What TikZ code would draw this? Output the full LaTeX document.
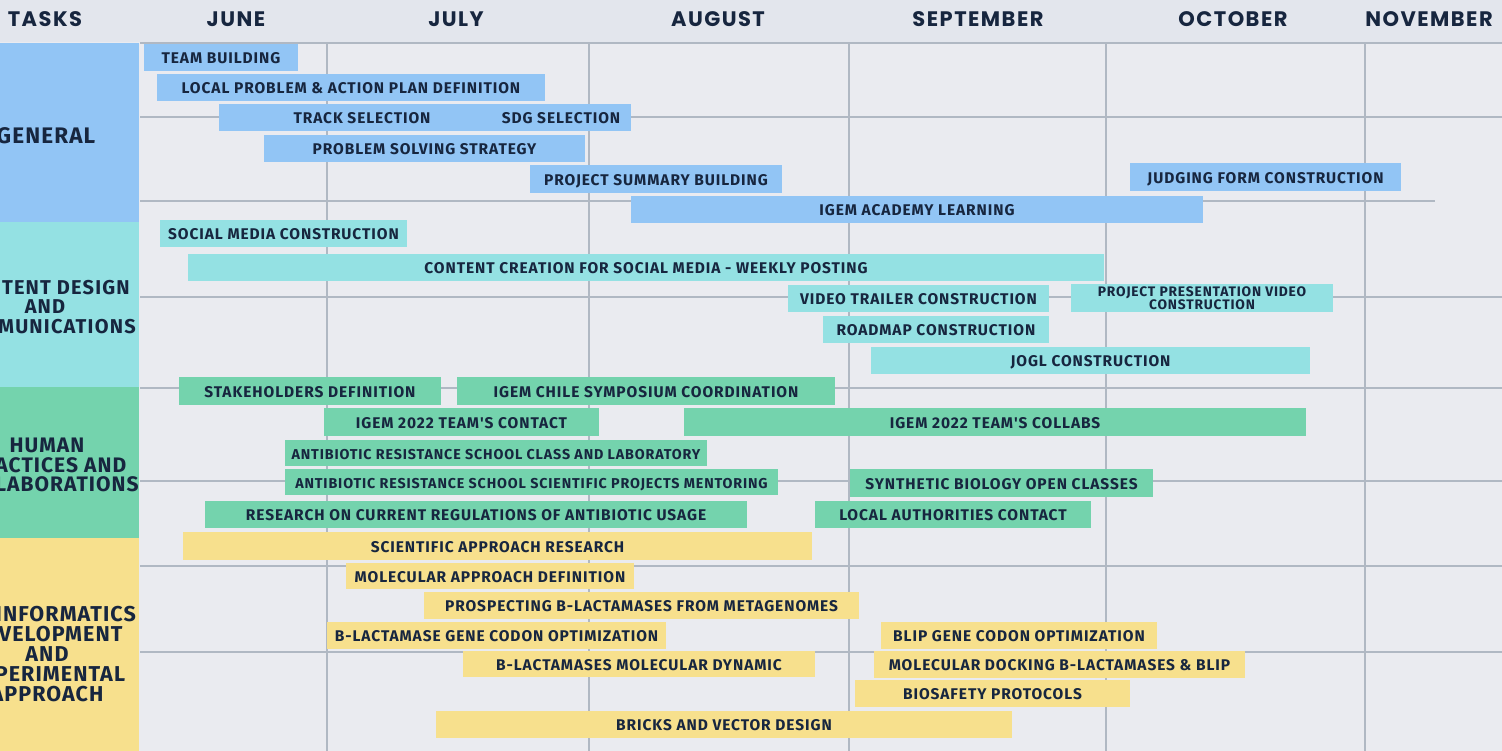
\documentclass[tikz,border=0pt]{standalone}
\usepackage{fontspec}
\newfontfamily\taskfont{Fira Sans}[LetterSpace=6]
\newfontfamily\catfont{Fira Sans}[LetterSpace=5]
\newfontfamily\hdrfont{Poppins}[LetterSpace=7]
\definecolor{bg}{HTML}{EAEBF0}
\definecolor{hdr}{HTML}{E3E6ED}
\definecolor{gridc}{HTML}{B0B8C3}
\definecolor{ink}{HTML}{17263F}
\definecolor{cblue}{HTML}{92C5F5}
\definecolor{ccyan}{HTML}{94E1E3}
\definecolor{cgreen}{HTML}{74D3AD}
\definecolor{cyellow}{HTML}{F7E08D}
\tikzset{
  bar/.style={inner sep=0pt, outer sep=0pt, text=ink, text height=12.5pt, text depth=0pt,
    font=\taskfont\bfseries\fontsize{15.5}{16}\selectfont},
  small/.style={font=\taskfont\bfseries\fontsize{14.3}{15}\selectfont, text height=12pt},
  cat/.style={inner sep=0pt, text=ink, align=center,
    font=\catfont\bfseries\fontsize{20}{19.8}\selectfont},
  month/.style={inner sep=0pt, anchor=base, text=ink, font=\hdrfont\bfseries\fontsize{21}{22}\selectfont},
  gridline/.style={draw=gridc, line width=2.6pt},
}
\newcommand\tb[8][]{\node[bar,#1,fill=#7,minimum width={(#5-#3)*1pt},minimum height={(#6-#4)*1pt}] (#2) at ({(#3+#5)/2},{(#4+#6)/2}) {#8};}
\begin{document}
\begin{tikzpicture}[x=1pt,y=-1pt]
\useasboundingbox (0,0) rectangle (1502,751);
\clip (0,0) rectangle (1502,751);
\fill[bg] (0,0) rectangle (1502,751);
\fill[hdr] (0,0) rectangle (1502,42);
% header
\node[month] (mtasks) at (45,27) {TASKS};
\node[month] (mjun) at (236,27) {JUNE};
\node[month] (mjul) at (456,27) {JULY};
\node[month] (maug) at (718,27) {AUGUST};
\node[month] (msep) at (978,27) {SEPTEMBER};
\node[month] (moct) at (1233,27) {OCTOBER};
\node[month] (mnov) at (1429,27) {NOVEMBER};
% grid
\foreach \x in {327,589,849,1106,1365} \draw[gridline] (\x,43) -- (\x,751);
\foreach \y in {43,117,297,388,481,566,652} \draw[gridline] (140,\y) -- (1502,\y);
\draw[gridline] (140,201) -- (1435,201);
% categories
\fill[cblue] (0,43) rectangle (139,222);
\fill[ccyan] (0,222) rectangle (139,387);
\fill[cgreen] (0,387) rectangle (139,538);
\fill[cyellow] (0,538) rectangle (139,751);
\node[cat, font=\catfont\bfseries\fontsize{22.5}{23}\selectfont] (cgen) at (46,136) {GENERAL};
\node[cat, font=\taskfont\bfseries\fontsize{20}{19.8}\selectfont] (ccon) at (45,307) {CONTENT DESIGN\\AND\\COMMUNICATIONS};
\node[cat, font=\catfont\bfseries\fontsize{21}{19.6}\selectfont] (chum) at (47,465) {HUMAN\\PRACTICES AND\\COLLABORATIONS};
\node[cat, font=\catfont\bfseries\fontsize{21.5}{20}\selectfont] (cexp) at (47,654) {BIOINFORMATICS\\DEVELOPMENT\\AND\\EXPERIMENTAL\\APPROACH};
% general
\tb{t1}{144}{44}{298}{71}{cblue}{TEAM BUILDING}
\tb{t2}{157}{74}{545}{101}{cblue}{LOCAL PROBLEM \& ACTION PLAN DEFINITION}
\tb{t3}{219}{104}{505}{131}{cblue}{TRACK SELECTION}
\tb{t3b}{491}{104}{631}{131}{cblue}{SDG SELECTION}
\tb{t4}{264}{135}{585}{162}{cblue}{PROBLEM SOLVING STRATEGY}
\tb{t5}{530}{165}{782}{193}{cblue}{PROJECT SUMMARY BUILDING}
\tb{t6}{1130}{163}{1401}{191}{cblue}{JUDGING FORM CONSTRUCTION}
\tb{t7}{631}{196}{1203}{223}{cblue}{IGEM ACADEMY LEARNING}
% content
\tb{c1}{160}{220}{407}{247}{ccyan}{SOCIAL MEDIA CONSTRUCTION}
\tb{c2}{188}{254}{1104}{281}{ccyan}{CONTENT CREATION FOR SOCIAL MEDIA - WEEKLY POSTING}
\tb{c3}{788}{285}{1049}{312}{ccyan}{VIDEO TRAILER CONSTRUCTION}
\node[inner sep=0pt, fill=ccyan, text=ink, align=center, minimum width=262pt, minimum height=28pt,
  font=\taskfont\bfseries\fontsize{13.8}{13}\selectfont] (c4) at (1202,298) {PROJECT PRESENTATION VIDEO\\CONSTRUCTION};
\tb{c5}{823}{316}{1049}{343}{ccyan}{ROADMAP CONSTRUCTION}
\tb{c6}{871}{347}{1310}{374}{ccyan}{JOGL CONSTRUCTION}
% human practices
\tb{h1}{179}{377}{441}{405}{cgreen}{STAKEHOLDERS DEFINITION}
\tb{h2}{457}{377}{835}{405}{cgreen}{IGEM CHILE SYMPOSIUM COORDINATION}
\tb{h3}{324}{408}{599}{436}{cgreen}{IGEM 2022 TEAM'S CONTACT}
\tb{h4}{684}{408}{1306}{436}{cgreen}{IGEM 2022 TEAM'S COLLABS}
\tb[small]{h5}{285}{440}{707}{466}{cgreen}{ANTIBIOTIC RESISTANCE SCHOOL CLASS AND LABORATORY}
\tb[small]{h6}{285}{469}{778}{495}{cgreen}{ANTIBIOTIC RESISTANCE SCHOOL SCIENTIFIC PROJECTS MENTORING}
\tb{h7}{850}{469}{1153}{497}{cgreen}{SYNTHETIC BIOLOGY OPEN CLASSES}
\tb{h8}{205}{501}{747}{528}{cgreen}{RESEARCH ON CURRENT REGULATIONS OF ANTIBIOTIC USAGE}
\tb{h9}{815}{501}{1091}{528}{cgreen}{LOCAL AUTHORITIES CONTACT}
% experimental
\tb{e1}{183}{532}{812}{560}{cyellow}{SCIENTIFIC APPROACH RESEARCH}
\tb{e2}{346}{563}{634}{589}{cyellow}{MOLECULAR APPROACH DEFINITION}
\tb{e3}{424}{592}{859}{619}{cyellow}{PROSPECTING B-LACTAMASES FROM METAGENOMES}
\tb{e4}{327}{622}{666}{649}{cyellow}{B-LACTAMASE GENE CODON OPTIMIZATION}
\tb{e5}{881}{622}{1157}{649}{cyellow}{BLIP GENE CODON OPTIMIZATION}
\tb{e6}{463}{651}{815}{677}{cyellow}{B-LACTAMASES MOLECULAR DYNAMIC}
\tb{e7}{874}{651}{1245}{678}{cyellow}{MOLECULAR DOCKING B-LACTAMASES \& BLIP}
\tb{e8}{855}{680}{1130}{707}{cyellow}{BIOSAFETY PROTOCOLS}
\tb{e9}{436}{711}{1012}{738}{cyellow}{BRICKS AND VECTOR DESIGN}
\end{tikzpicture}
\end{document}
